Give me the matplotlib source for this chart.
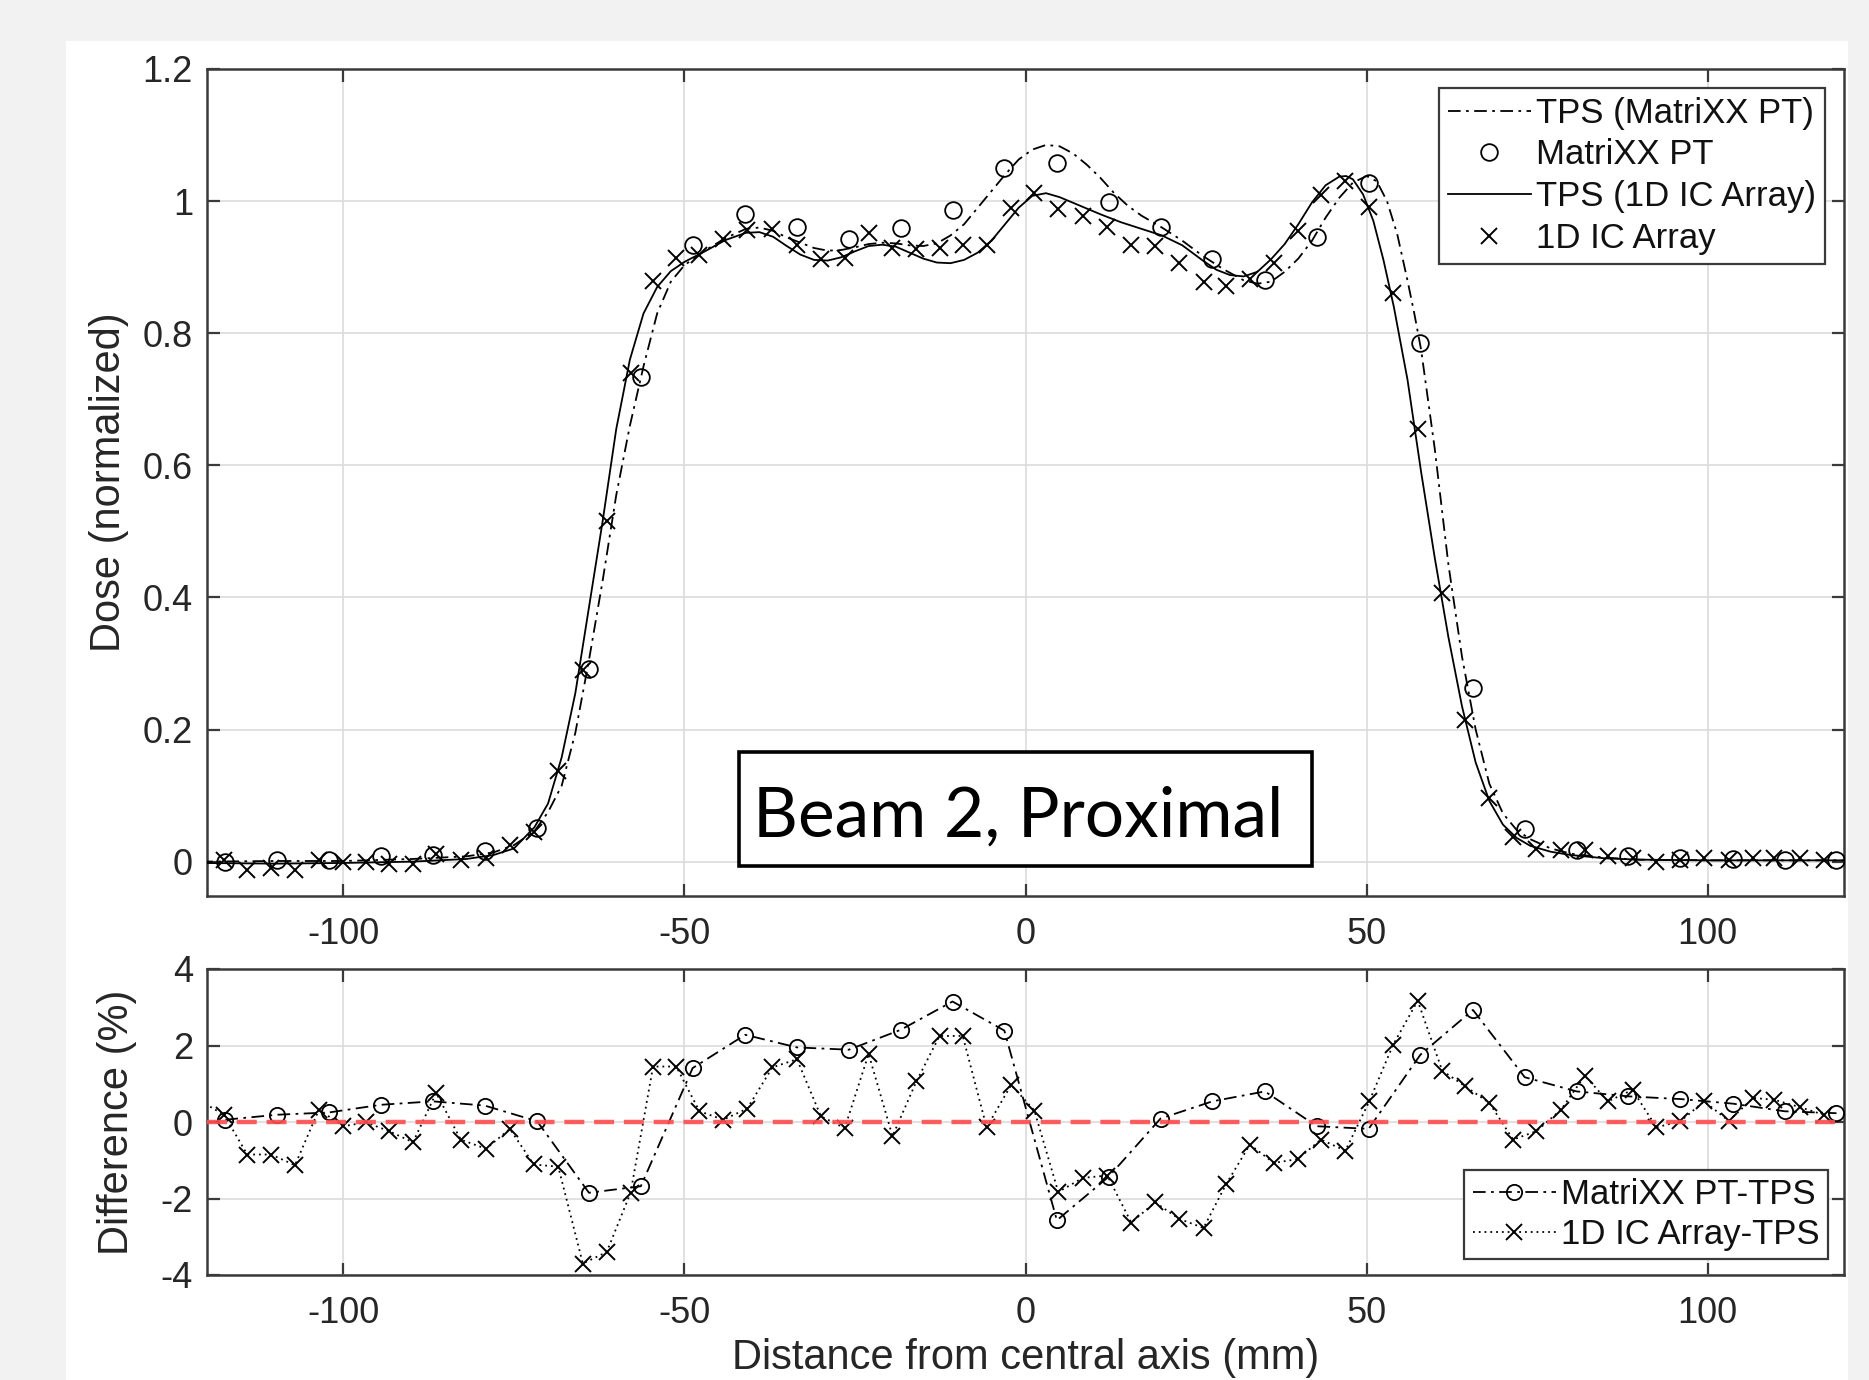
import matplotlib
matplotlib.use("Agg")
import matplotlib.pyplot as plt
from matplotlib.patches import Rectangle
from matplotlib.ticker import FormatStrFormatter

plt.rcParams['font.family'] = ['Liberation Sans', 'DejaVu Sans']
plt.rcParams['axes.unicode_minus'] = False

# ---- measured points (mm from central axis) ----
matrixx_x = [-117.3, -109.7, -102.1, -94.5, -86.9, -79.3, -71.6, -64.0, -56.4, -48.8,
             -41.1, -33.5, -25.9, -18.3, -10.7, -3.1, 4.6, 12.2, 19.8, 27.4,
             35.1, 42.7, 50.3, 57.9, 65.6, 73.2, 80.8, 88.4, 96.0, 103.7, 111.3, 118.9]
matrixx_dose = [0.000, 0.003, 0.003, 0.008, 0.010, 0.016, 0.051, 0.292, 0.733, 0.934,
                0.980, 0.961, 0.942, 0.960, 0.987, 1.050, 1.057, 0.998, 0.961, 0.912,
                0.880, 0.945, 1.027, 0.785, 0.263, 0.049, 0.018, 0.009, 0.005, 0.004, 0.003, 0.002]
matrixx_diff = [0.06, 0.19, 0.25, 0.45, 0.54, 0.43, 0.02, -1.85, -1.68, 1.41,
                2.28, 1.95, 1.89, 2.41, 3.15, 2.39, -2.57, -1.43, 0.09, 0.54,
                0.80, -0.11, -0.18, 1.76, 2.93, 1.17, 0.80, 0.67, 0.60, 0.48, 0.28, 0.23]

ic_x = [-117.5, -114.1, -110.6, -107.1, -103.6, -100.0, -96.7, -93.3, -89.8, -86.4,
        -82.8, -79.1, -75.6, -72.1, -68.5, -64.9, -61.4, -57.9, -54.6, -51.2,
        -47.8, -44.3, -40.8, -37.1, -33.5, -30.0, -26.5, -23.0, -19.5, -16.0,
        -12.6, -9.2, -5.7, -2.1, 1.3, 4.8, 8.4, 12.0, 15.5, 19.0,
        22.5, 26.1, 29.4, 32.9, 36.4, 39.9, 43.3, 46.9, 50.4, 53.9,
        57.5, 61.1, 64.5, 68.0, 71.5, 74.9, 78.5, 82.0, 85.4, 89.0,
        92.5, 96.0, 99.5, 103.1, 106.7, 109.8, 113.5, 117.0]
ic_dose = [0.002, -0.012, -0.010, -0.013, 0.003, 0.000, 0.000, -0.003, -0.004, 0.011,
           0.003, 0.005, 0.025, 0.045, 0.137, 0.290, 0.516, 0.740, 0.879, 0.914,
           0.919, 0.942, 0.956, 0.958, 0.934, 0.912, 0.914, 0.951, 0.929, 0.927,
           0.929, 0.934, 0.934, 0.990, 1.012, 0.988, 0.977, 0.961, 0.934, 0.932,
           0.907, 0.877, 0.871, 0.882, 0.907, 0.955, 1.010, 1.030, 0.991, 0.861,
           0.655, 0.406, 0.214, 0.097, 0.037, 0.019, 0.017, 0.018, 0.009, 0.006,
           0.000, 0.002, 0.006, 0.002, 0.006, 0.005, 0.005, 0.003]
ic_diff = [0.19, -0.85, -0.85, -1.13, 0.32, -0.11, -0.01, -0.24, -0.53, 0.76,
           -0.46, -0.70, -0.18, -1.11, -1.17, -3.70, -3.40, -1.85, 1.45, 1.45,
           0.28, 0.06, 0.35, 1.43, 1.64, 0.15, -0.16, 1.78, -0.37, 1.06,
           2.25, 2.25, -0.14, 0.97, 0.30, -1.83, -1.46, -1.40, -2.63, -2.10,
           -2.53, -2.77, -1.63, -0.59, -1.07, -0.97, -0.46, -0.75, 0.54, 2.02,
           3.17, 1.34, 0.93, 0.50, -0.46, -0.24, 0.32, 1.21, 0.54, 0.84,
           -0.14, 0.02, 0.54, 0.03, 0.63, 0.58, 0.39, 0.19]
# short clipped segment entering the difference panel from the left
ic_diff_x_edge = [-121.0]
ic_diff_edge = [0.55]

# ---- TPS profiles ----
tps_ic_x = [-121, -110, -100, -90, -82, -78, -75, -72, -70, -68, -66, -64, -62, -60, -58,
            -56, -54, -52, -50, -47, -44, -41, -39, -37, -35, -33, -31, -29, -27, -25,
            -23, -21, -19, -17, -15, -13, -11, -9, -7, -5, -3, -1, 1, 3, 5,
            8, 11, 14, 17, 20, 23, 26, 28, 30, 32, 34, 36, 38, 40, 42,
            44, 46, 47, 48, 49.5, 51, 52.5, 54, 56, 58, 60, 62, 64, 66, 68,
            70, 72, 74, 77, 80, 85, 90, 100, 110, 121]
tps_ic = [-0.002, -0.003, -0.002, 0.000, 0.004, 0.010, 0.020, 0.052, 0.088, 0.158, 0.255, 0.385, 0.515, 0.655, 0.760,
          0.830, 0.870, 0.894, 0.908, 0.924, 0.941, 0.952, 0.953, 0.946, 0.932, 0.919, 0.911, 0.910, 0.915, 0.924,
          0.932, 0.934, 0.931, 0.922, 0.913, 0.907, 0.906, 0.911, 0.922, 0.940, 0.965, 0.990, 1.008, 1.012, 1.006,
          0.993, 0.980, 0.968, 0.958, 0.948, 0.933, 0.910, 0.896, 0.888, 0.886, 0.893, 0.912, 0.935, 0.965, 0.998,
          1.024, 1.037, 1.038, 1.033, 1.010, 0.970, 0.910, 0.840, 0.730, 0.590, 0.460, 0.340, 0.235, 0.150, 0.092,
          0.056, 0.036, 0.024, 0.015, 0.010, 0.005, 0.003, 0.002, 0.002, 0.002]

tps_mx_x = [-121, -110, -100, -90, -82, -78, -75, -72, -70, -68, -66, -64, -62, -60, -58,
            -56, -54, -52, -50, -47, -44, -41, -39, -37, -35, -33, -31, -29, -27, -25,
            -23, -21, -19, -17, -15, -13, -11, -9, -7, -5, -3, -1, 1, 3, 5,
            7, 9, 11, 13, 15, 17, 20, 23, 26, 29, 32, 34, 36, 38, 40,
            42, 44, 46, 48, 50, 51.5, 53, 54.5, 56, 57, 58, 59, 60, 62, 64,
            66, 68, 70, 72, 74, 77, 80, 85, 90, 100, 110, 121]
tps_mx = [0.000, 0.001, 0.001, 0.004, 0.008, 0.014, 0.025, 0.046, 0.075, 0.115, 0.195, 0.305, 0.425, 0.555, 0.660,
          0.750, 0.830, 0.878, 0.903, 0.925, 0.944, 0.958, 0.960, 0.955, 0.945, 0.937, 0.929, 0.925, 0.926, 0.930,
          0.935, 0.937, 0.936, 0.933, 0.932, 0.936, 0.948, 0.965, 0.990, 1.015, 1.040, 1.063, 1.078, 1.085, 1.083,
          1.072, 1.055, 1.035, 1.012, 0.993, 0.978, 0.960, 0.940, 0.917, 0.897, 0.880, 0.875, 0.878, 0.893, 0.913,
          0.940, 0.975, 1.005, 1.028, 1.038, 1.030, 1.000, 0.950, 0.880, 0.830, 0.775, 0.700, 0.625, 0.450, 0.310,
          0.200, 0.118, 0.073, 0.048, 0.034, 0.020, 0.012, 0.006, 0.003, 0.002, 0.002, 0.002]

x_ticks = [-100, -50, 0, 50, 100]
dose_ticks = [0, 0.2, 0.4, 0.6, 0.8, 1, 1.2]
diff_ticks = [-4, -2, 0, 2, 4]

W, H = 1869, 1380
fig = plt.figure(figsize=(W / 100, H / 100), dpi=100)
fig.patch.set_facecolor('#f2f2f2')
panel = Rectangle((66 / W, 0), (1848 - 66) / W, 1 - 41 / H,
                  transform=fig.transFigure, facecolor='white',
                  edgecolor='none', zorder=-10)
fig.add_artist(panel)

axc = '#262626'
ax1 = fig.add_axes([207 / W, 1 - 896 / H, (1844 - 207) / W, (896 - 69) / H])
ax2 = fig.add_axes([207 / W, 1 - 1275 / H, (1844 - 207) / W, (1275 - 969) / H])


def style(ax):
    ax.set_facecolor('white')
    ax.grid(True, color='#dcdcdc', lw=1.2, zorder=0)
    ax.set_axisbelow(True)
    for s in ax.spines.values():
        s.set_color('#3a3a3a')
        s.set_linewidth(1.8)
    ax.tick_params(direction='in', length=9, width=1.6, color='#3a3a3a',
                   top=True, right=True, labelsize=26, labelcolor=axc, pad=10)
    ax.tick_params(axis='x', pad=15)
    ax.set_xlim(-120, 120)
    ax.set_xticks(x_ticks)


style(ax1)
style(ax2)

# ---- top: dose profiles ----
ax1.plot(tps_mx_x, tps_mx, color='black', lw=1.3, ls=(0, (7, 3, 1.5, 3)),
         label='TPS (MatriXX PT)', zorder=3)
ax1.plot(matrixx_x, matrixx_dose, ls='none', marker='o', ms=12, mfc='none',
         mec='black', mew=1.3, label='MatriXX PT', zorder=4)
ax1.plot(tps_ic_x, tps_ic, color='black', lw=1.3, ls='-',
         label='TPS (1D IC Array)', zorder=3)
ax1.plot(ic_x, ic_dose, ls='none', marker='x', ms=11, mec='black', mew=1.4,
         label='1D IC Array', zorder=4)
ax1.set_ylim(-0.052, 1.2)
ax1.set_yticks(dose_ticks)
ax1.yaxis.set_major_formatter(FormatStrFormatter('%g'))
ax1.set_ylabel('Dose (normalized)', fontsize=30, color=axc)
ax1.yaxis.set_label_coords(-0.0476, 0.5)
leg1 = ax1.legend(loc='upper right', fontsize=25, frameon=True, fancybox=False,
                  edgecolor='#3a3a3a', framealpha=1, handlelength=2.4,
                  handletextpad=0.15, labelspacing=0.25, borderpad=0.25,
                  borderaxespad=0.55, numpoints=1)
leg1.get_frame().set_linewidth(1.6)
for t in leg1.get_texts():
    t.set_color('#111111')

# annotation box drawn as a frame plus text
ax1.add_patch(Rectangle((0.3248, 0.036), 0.6752 - 0.3248, 0.1744 - 0.036,
                        transform=ax1.transAxes, facecolor='white',
                        edgecolor='black', lw=2.6, zorder=6))
ax1.text(0.3336, 0.072, 'Beam 2, Proximal', transform=ax1.transAxes,
         ha='left', va='baseline', fontsize=50, family=['Lato', 'DejaVu Sans'],
         color='black', zorder=7)

# ---- bottom: differences ----
ax2.plot(matrixx_x, matrixx_diff, color='black', lw=1.3, ls=(0, (7, 3, 1.5, 3)),
         marker='o', ms=11, mfc='none', mec='black', mew=1.3,
         label='MatriXX PT-TPS', zorder=3)
ax2.plot(ic_diff_x_edge + ic_x[:1], ic_diff_edge + ic_diff[:1], color='black',
         lw=1.3, ls=(0, (1, 2.2)), zorder=3)
ax2.plot(ic_x, ic_diff, color='black', lw=1.3, ls=(0, (1, 2.2)),
         marker='x', ms=11, mec='black', mew=1.4,
         label='1D IC Array-TPS', zorder=3)
ax2.axhline(0, color='#ff4d4d', lw=3.2, ls=(0, (4.5, 2.2)), alpha=0.9, zorder=5)
ax2.set_ylim(-4, 4)
ax2.set_yticks(diff_ticks)
ax2.set_ylabel('Difference (%)', fontsize=30, color=axc)
ax2.yaxis.set_label_coords(-0.0427, 0.5)
ax2.set_xlabel('Distance from central axis (mm)', fontsize=30, color=axc)
ax2.xaxis.set_label_coords(0.5, -0.27)
ax2.xaxis.label.set_va('center')
leg2 = ax2.legend(loc='lower right', fontsize=25, frameon=True, fancybox=False,
                  edgecolor='#3a3a3a', framealpha=1, handlelength=2.4,
                  handletextpad=0.15, labelspacing=0.18, borderpad=0.25,
                  borderaxespad=0.45, numpoints=1)
leg2.get_frame().set_linewidth(1.6)
for t in leg2.get_texts():
    t.set_color('#111111')

fig.savefig('out.png', dpi=100, facecolor=fig.get_facecolor())
